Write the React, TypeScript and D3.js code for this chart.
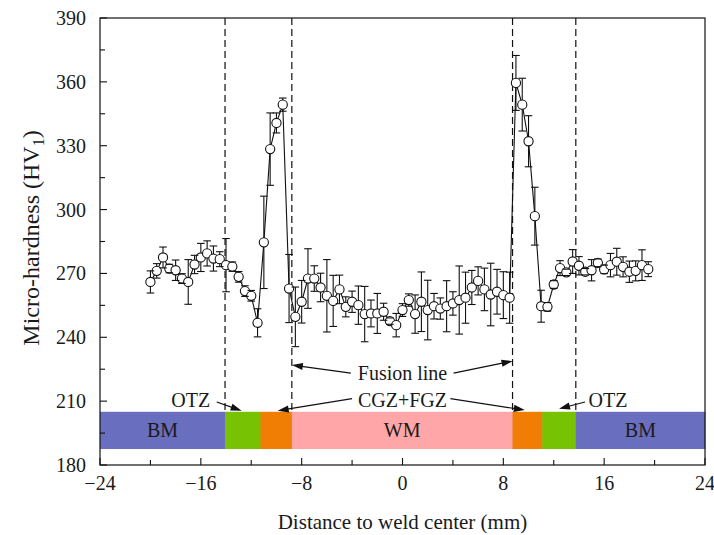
import React from "react";
import * as d3 from "d3";

// Micro-hardness profile across the weld
const distance = [
  -20, -19.5, -19, -18.5, -18, -17.5, -17, -16.5, -16, -15.5, -15, -14.5, -14, -13.5, -13, -12.5,
  -12, -11.5, -11, -10.5, -10, -9.5, -9, -8.5, -8, -7.5, -7, -6.5, -6, -5.5, -5, -4.5,
  -4, -3.5, -3, -2.5, -2, -1.5, -1, -0.5, 0, 0.5, 1, 1.5, 2, 2.5, 3, 3.5,
  4, 4.5, 5, 5.5, 6, 6.5, 7, 7.5, 8, 8.5, 9, 9.5, 10, 10.5, 11, 11.5,
  12, 12.5, 13, 13.5, 14, 14.5, 15, 15.5, 16, 16.5, 17, 17.5, 18, 18.5, 19, 19.5,
];

const hardness = [
  266.0, 271.2, 277.5, 272.3, 271.5, 267.6, 266.0, 274.2, 277.5, 279.4, 277.0, 276.7, 273.9, 273.2, 268.4, 261.7,
  259.5, 246.8, 284.6, 328.4, 340.7, 349.3, 262.9, 249.6, 256.7, 267.6, 267.6, 263.4, 259.5, 257.1, 262.5, 254.3,
  256.7, 255.1, 250.9, 251.2, 251.2, 252.0, 247.6, 245.7, 252.8, 257.5, 250.9, 256.7, 252.8, 254.6, 253.5, 254.6,
  255.9, 257.5, 258.6, 263.4, 266.5, 262.5, 260.1, 261.4, 259.8, 258.6, 359.5, 349.3, 332.1, 296.9, 254.6, 254.3,
  264.8, 272.5, 270.5, 275.6, 273.6, 270.8, 271.5, 275.0, 271.9, 273.9, 275.5, 273.1, 270.8, 271.2, 273.9, 272.0,
];

const hardnessError = [
  5.2, 3.4, 4.9, 2.0, 4.8, 2.3, 10.5, 4.3, 6.6, 5.9, 5.9, 3.5, 12.5, 2.2, 2.5, 2.5,
  2.5, 6.6, 21.7, 17.0, 4.7, 3.1, 16.0, 14.0, 10.0, 14.0, 6.0, 6.7, 17.0, 12.0, 6.7, 4.7,
  5.0, 9.0, 13.0, 6.3, 9.4, 4.0, 1.5, 5.5, 3.0, 2.9, 9.0, 14.0, 14.0, 6.0, 5.0, 12.0,
  5.5, 16.0, 12.0, 8.0, 6.6, 10.0, 14.7, 10.5, 11.0, 12.0, 12.9, 12.4, 12.0, 13.6, 7.5, 2.0,
  1.8, 3.5, 1.5, 5.6, 4.3, 1.5, 5.0, 1.8, 2.0, 5.5, 6.3, 4.7, 5.0, 4.7, 7.2, 3.5,
];

// Weld zones along the bar at the bottom
const zoneNames = ["BM", "OTZ", "CGZ+FGZ", "WM", "CGZ+FGZ", "OTZ", "BM"];
const zoneStart = [-24, -14.08, -11.27, -8.78, 8.73, 11.09, 13.75];
const zoneEnd = [-14.08, -11.27, -8.78, 8.73, 11.09, 13.75, 24];
const zoneColors = ["#6a6ebf", "#77c303", "#f07e05", "#ffa6a8", "#f07e05", "#77c303", "#6a6ebf"];
const zoneBand = [187.5, 205];
const boundaryLines = [-14.08, -8.78, 8.73, 13.75];

const xTicks = [-24, -16, -8, 0, 8, 16, 24];
const xMinorTicks = [-20, -12, -4, 4, 12, 20];
const yTicks = [180, 210, 240, 270, 300, 330, 360, 390];
const yMinorTicks = [195, 225, 255, 285, 315, 345, 375];

// Callouts: [label, x, y] and arrows: [x1, y1, x2, y2] in data units
const callouts: [string, number, number][] = [
  ["Fusion line", 0, 223.4],
  ["CGZ+FGZ", 0, 210.6],
  ["OTZ", -16.8, 210.6],
  ["OTZ", 16.3, 210.6],
];
const arrows: [number, number, number, number][] = [
  [-4.1, 223.2, -8.78, 227.0],
  [4.05, 223.2, 8.73, 228.8],
  [-4.0, 211.2, -9.9, 205.5],
  [3.8, 211.2, 9.7, 205.8],
  [-14.74, 209.6, -12.76, 205.5],
  [14.48, 209.6, 12.42, 206.4],
];

const W = 714;
const H = 535;
const left = 100;
const right = 705;
const top = 18;
const bottom = 465;
const font = "'Liberation Serif', 'Times New Roman', serif";

export default function App() {
  const x = d3.scaleLinear().domain([-24, 24]).range([left, right]);
  const y = d3.scaleLinear().domain([180, 390]).range([bottom, top]);
  const r = 4.6;

  const pts = distance.map((d, i) => ({ d, v: hardness[i], e: hardnessError[i] }));
  const line = d3
    .line<{ d: number; v: number }>()
    .x((p) => x(p.d))
    .y((p) => y(p.v));

  const arrowHead = (x1: number, y1: number, x2: number, y2: number) => {
    const ang = Math.atan2(y2 - y1, x2 - x1);
    const len = 11;
    const half = 3.6;
    const bx = x2 - len * Math.cos(ang);
    const by = y2 - len * Math.sin(ang);
    const px = -Math.sin(ang) * half;
    const py = Math.cos(ang) * half;
    return `M${x2},${y2}L${bx + px},${by + py}L${bx - px},${by - py}Z`;
  };

  return (
    <svg
      width={W}
      height={H}
      style={{ position: "absolute", left: 0, top: 0, background: "#fff" }}
      fontFamily={font}
    >
      <rect x={0} y={0} width={W} height={H} fill="#fff" />

      {/* zone bar */}
      {zoneNames.map((n, i) => (
        <rect
          key={"z" + i}
          x={x(zoneStart[i])}
          y={y(zoneBand[1])}
          width={x(zoneEnd[i]) - x(zoneStart[i]) + 0.5}
          height={y(zoneBand[0]) - y(zoneBand[1])}
          fill={zoneColors[i]}
        />
      ))}
      {zoneNames.map((n, i) =>
        n === "BM" || n === "WM" ? (
          <text
            key={"zl" + i}
            x={x((zoneStart[i] + zoneEnd[i]) / 2)}
            y={y((zoneBand[0] + zoneBand[1]) / 2)}
            textAnchor="middle"
            dominantBaseline="central"
            fontSize={20}
            fill="#1a1a1a"
          >
            {n}
          </text>
        ) : null
      )}

      {/* zone boundaries */}
      {boundaryLines.map((b, i) => (
        <line
          key={"b" + i}
          x1={x(b)}
          x2={x(b)}
          y1={y(390)}
          y2={y(zoneBand[1])}
          stroke="#111"
          strokeWidth={1.2}
          strokeDasharray="7,4"
        />
      ))}

      {/* callouts */}
      {callouts.map(([t, cx, cy], i) => (
        <text
          key={"c" + i}
          x={x(cx)}
          y={y(cy)}
          textAnchor="middle"
          dominantBaseline="central"
          fontSize={20}
          fill="#1a1a1a"
        >
          {t}
        </text>
      ))}
      {arrows.map(([x1, y1, x2, y2], i) => {
        const X1 = x(x1), Y1 = y(y1), X2 = x(x2), Y2 = y(y2);
        const ang = Math.atan2(Y2 - Y1, X2 - X1);
        return (
          <g key={"a" + i}>
            <line
              x1={X1}
              y1={Y1}
              x2={X2 - 8 * Math.cos(ang)}
              y2={Y2 - 8 * Math.sin(ang)}
              stroke="#111"
              strokeWidth={1.2}
            />
            <path d={arrowHead(X1, Y1, X2, Y2)} fill="#111" />
          </g>
        );
      })}

      {/* hardness profile */}
      <path d={line(pts) || ""} fill="none" stroke="#111" strokeWidth={1.1} />
      {pts.map((p, i) => (
        <circle key={"p" + i} cx={x(p.d)} cy={y(p.v)} r={r} fill="#fff" stroke="#111" strokeWidth={1.1} />
      ))}
      {pts.map((p, i) => {
        const cx = x(p.d);
        const yt = y(p.v + p.e);
        const yb = y(p.v - p.e);
        const cy = y(p.v);
        return (
          <g key={"e" + i} stroke="#111" strokeWidth={1.1}>
            {cy - yt > r ? <line x1={cx} x2={cx} y1={yt} y2={cy - r} /> : null}
            {yb - cy > r ? <line x1={cx} x2={cx} y1={cy + r} y2={yb} /> : null}
            <line x1={cx - 3.8} x2={cx + 3.8} y1={yt} y2={yt} />
            <line x1={cx - 3.8} x2={cx + 3.8} y1={yb} y2={yb} />
          </g>
        );
      })}

      {/* frame and ticks */}
      <rect x={left} y={top} width={right - left} height={bottom - top} fill="none" stroke="#111" strokeWidth={1.2} />
      {yTicks.map((t) => (
        <g key={"yt" + t}>
          <line x1={left} x2={left + 7} y1={y(t)} y2={y(t)} stroke="#111" strokeWidth={1.1} />
          <text x={86} y={y(t)} textAnchor="end" dominantBaseline="central" fontSize={20} fill="#1a1a1a">
            {t}
          </text>
        </g>
      ))}
      {yMinorTicks.map((t) => (
        <line key={"ym" + t} x1={left} x2={left + 5} y1={y(t)} y2={y(t)} stroke="#111" strokeWidth={1.1} />
      ))}
      {xTicks.map((t) => (
        <g key={"xt" + t}>
          <line x1={x(t)} x2={x(t)} y1={bottom} y2={bottom - 7} stroke="#111" strokeWidth={1.1} />
          <text x={x(t)} y={490} textAnchor="middle" fontSize={20} fill="#1a1a1a">
            {t < 0 ? "\u2212" + Math.abs(t) : String(t)}
          </text>
        </g>
      ))}
      {xMinorTicks.map((t) => (
        <line key={"xm" + t} x1={x(t)} x2={x(t)} y1={bottom} y2={bottom - 5} stroke="#111" strokeWidth={1.1} />
      ))}

      {/* axis titles */}
      <text x={(left + right) / 2} y={529} textAnchor="middle" fontSize={21} fill="#1a1a1a">
        Distance to weld center (mm)
      </text>
      <text
        transform={`translate(39, 238) rotate(-90)`}
        textAnchor="middle"
        fontSize={24}
        fill="#1a1a1a"
      >
        Micro-hardness (HV
        <tspan fontSize={16} dy={5}>1</tspan>
        <tspan dy={-5}>)</tspan>
      </text>
    </svg>
  );
}
